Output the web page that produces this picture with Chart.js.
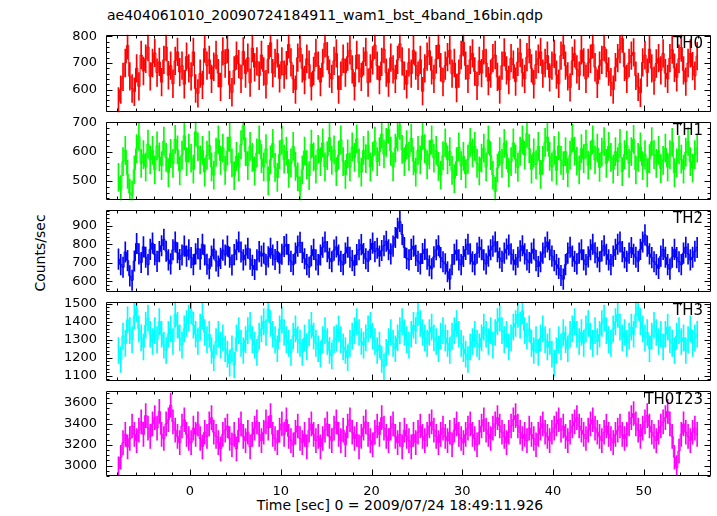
<!DOCTYPE html>
<html>
<head>
<meta charset="utf-8">
<script src="https://cdn.jsdelivr.net/npm/chart.js@4.4.1/dist/chart.umd.min.js"></script>
<style>
  html, body { margin: 0; padding: 0; background: #fff; }
  #wrap { position: relative; width: 717px; height: 516px; overflow: hidden; font-family: 'DejaVu Sans', sans-serif; }
  .panel { position: absolute; left: 0; width: 717px; }
  .panel canvas { display: block; }
  .txt { position: absolute; color: #000; white-space: nowrap; font-size: 14px; line-height: 16px; }
</style>
</head>
<body>
<div id="wrap">
  <div class="txt" style="left:107px; top:7px;">ae404061010_20090724184911_wam1_bst_4band_16bin.qdp</div>
  <div class="txt" style="left:40px; top:253px; transform: translate(-50%, -50%) rotate(-90deg);">Counts/sec</div>
  <div class="txt" style="left:400px; top:505px; transform: translate(-50%, -50%);">Time [sec] 0 = 2009/07/24 18:49:11.926</div>
</div>
<script>
// ==== DATA ====
// bins of 0.25 s, first bin centre at -7.875 s
const binStart = -7.875;
const binWidth = 0.25;

const th0 = [
  556, 600, 648, 700, 766, 650, 604, 592, 680, 612, 730, 670, 716, 760, 650, 700,
  738, 664, 704, 628, 712, 760, 654, 690, 622, 708, 742, 666, 690, 620, 724, 680,
  650, 742, 604, 586, 660, 618, 754, 690, 712, 640, 686, 730, 662, 610, 744, 698,
  752, 618, 590, 672, 728, 696, 640, 744, 660, 720, 626, 756, 684, 706, 652, 730,
  668, 620, 714, 776, 662, 700, 736, 642, 706, 656, 692, 770, 702, 640, 600, 720,
  756, 680, 636, 716, 694, 612, 670, 738, 690, 628, 700, 774, 726, 660, 640, 708,
  736, 600, 652, 716, 664, 724, 748, 676, 612, 730, 680, 648, 706, 742, 626, 680,
  710, 768, 690, 636, 704, 752, 664, 626, 720, 676, 640, 712, 772, 706, 652, 620,
  702, 660, 748, 690, 652, 712, 594, 680, 724, 746, 672, 640, 714, 768, 684, 628,
  690, 722, 748, 660, 700, 606, 660, 730, 778, 690, 640, 712, 736, 668, 614, 708,
  662, 748, 700, 632, 660, 718, 730, 648, 600, 690, 740, 672, 636, 718, 694, 630,
  704, 738, 664, 640, 722, 752, 680, 620, 694, 716, 742, 660, 700, 728, 646, 690,
  734, 656, 622, 728, 768, 690, 650, 608, 708, 736, 676, 652, 748, 702, 640, 700,
  716, 770, 684, 622, 690, 712, 760, 700, 668, 628, 600, 684, 718, 752, 792, 686,
  640, 700, 728, 740, 652, 610, 588, 702, 730, 664, 752, 680, 634, 698, 718, 672,
  736, 662, 640, 718, 750, 682, 646, 716, 758, 672, 630, 700, 736, 688, 652, 726
];

const th1 = [
  512, 470, 566, 604, 522, 458, 452, 538, 610, 652, 560, 590, 548, 626, 572, 604,
  538, 620, 582, 552, 636, 580, 528, 594, 560, 642, 606, 534, 588, 654, 566, 612,
  578, 540, 668, 616, 572, 604, 530, 588, 622, 548, 520, 598, 640, 570, 612, 536,
  602, 650, 562, 518, 584, 548, 624, 688, 600, 552, 618, 580, 534, 596, 640, 576,
  548, 610, 500, 572, 628, 546, 512, 590, 640, 574, 602, 526, 562, 618, 550, 514,
  466, 538, 602, 556, 518, 626, 582, 540, 608, 566, 630, 548, 586, 648, 570, 606,
  532, 588, 640, 566, 522, 592, 548, 616, 580, 644, 562, 530, 604, 576, 622, 548,
  584, 636, 566, 600, 660, 592, 632, 676, 602, 548, 612, 650, 690, 608, 566, 624,
  584, 646, 568, 530, 604, 572, 654, 610, 556, 590, 640, 578, 604, 550, 520, 586,
  630, 572, 600, 536, 508, 566, 616, 552, 584, 524, 574, 632, 596, 618, 560, 534,
  578, 612, 548, 640, 586, 520, 464, 544, 600, 560, 628, 590, 528, 566, 630, 574,
  546, 602, 640, 588, 662, 610, 540, 596, 556, 618, 522, 570, 632, 650, 584, 548,
  604, 536, 620, 570, 552, 600, 528, 588, 646, 602, 568, 538, 610, 576, 626, 554,
  588, 640, 572, 612, 546, 598, 634, 560, 618, 580, 540, 600, 566, 628, 532, 590,
  622, 560, 600, 642, 538, 580, 616, 552, 590, 528, 576, 634, 590, 560, 604, 542,
  570, 612, 548, 590, 632, 528, 562, 606, 574, 540, 598, 634, 566, 544, 590, 612
];

const th2 = [
  720, 690, 676, 758, 712, 630, 606, 710, 804, 748, 702, 786, 730, 690, 772, 806,
  744, 708, 760, 792, 826, 762, 716, 694, 770, 812, 754, 718, 742, 790, 736, 770,
  728, 690, 748, 776, 720, 800, 742, 692, 668, 736, 774, 710, 682, 724, 768, 742,
  790, 730, 688, 744, 770, 812, 758, 716, 742, 778, 720, 686, 664, 716, 760, 736,
  752, 690, 732, 778, 742, 718, 760, 698, 746, 788, 800, 744, 708, 690, 752, 790,
  810, 756, 722, 690, 676, 738, 772, 716, 690, 742, 784, 812, 760, 724, 706, 768,
  786, 742, 708, 690, 752, 784, 730, 712, 686, 744, 770, 798, 750, 722, 708, 772,
  806, 760, 778, 736, 766, 792, 816, 770, 748, 790, 836, 886, 922, 852, 782, 724,
  716, 772, 790, 740, 708, 694, 750, 772, 720, 684, 668, 732, 770, 792, 728, 706,
  694, 652, 612, 690, 746, 768, 716, 690, 734, 772, 800, 748, 706, 690, 752, 784,
  770, 716, 694, 736, 770, 790, 812, 760, 726, 708, 752, 774, 796, 748, 716, 690,
  730, 764, 792, 748, 716, 702, 752, 774, 712, 680, 706, 752, 784, 812, 770, 736,
  712, 690, 670, 632, 612, 690, 752, 784, 736, 708, 694, 752, 770, 716, 690, 732,
  770, 800, 754, 730, 706, 764, 792, 746, 716, 690, 736, 772, 800, 812, 760, 728,
  708, 752, 782, 746, 730, 708, 772, 812, 850, 790, 748, 728, 706, 690, 670, 736,
  772, 730, 690, 666, 730, 772, 728, 706, 690, 752, 784, 748, 716, 730, 762, 782
];

const th3 = [
  1240, 1190, 1320, 1280, 1410, 1350, 1300, 1430, 1470, 1360, 1310, 1260, 1380, 1420, 1330, 1290,
  1350, 1300, 1400, 1330, 1270, 1240, 1330, 1360, 1290, 1440, 1380, 1310, 1270, 1360, 1390, 1420,
  1460, 1380, 1330, 1290, 1370, 1430, 1340, 1300, 1330, 1240, 1200, 1290, 1330, 1270, 1310, 1250,
  1220, 1170, 1250, 1160, 1310, 1350, 1280, 1240, 1300, 1350, 1380, 1300, 1270, 1230, 1320, 1360,
  1400, 1340, 1470, 1390, 1330, 1300, 1250, 1360, 1410, 1340, 1300, 1280, 1230, 1320, 1360, 1300,
  1280, 1230, 1310, 1260, 1340, 1380, 1320, 1280, 1250, 1220, 1300, 1350, 1290, 1240, 1210, 1300,
  1310, 1360, 1300, 1260, 1240, 1200, 1280, 1320, 1350, 1400, 1340, 1290, 1270, 1310, 1360, 1380,
  1320, 1290, 1240, 1270, 1190, 1150, 1230, 1290, 1340, 1280, 1250, 1310, 1350, 1400, 1340, 1300,
  1270, 1330, 1380, 1350, 1450, 1390, 1340, 1310, 1280, 1340, 1370, 1310, 1290, 1250, 1320, 1350,
  1310, 1280, 1240, 1320, 1350, 1390, 1330, 1280, 1250, 1220, 1190, 1260, 1290, 1330, 1280, 1260,
  1310, 1370, 1330, 1290, 1350, 1270, 1340, 1400, 1420, 1350, 1300, 1330, 1260, 1310, 1370, 1390,
  1440, 1380, 1460, 1350, 1320, 1360, 1280, 1240, 1300, 1230, 1310, 1360, 1300, 1260, 1290, 1220,
  1170, 1240, 1300, 1260, 1340, 1300, 1250, 1330, 1360, 1400, 1330, 1290, 1340, 1280, 1360, 1390,
  1320, 1280, 1350, 1290, 1330, 1390, 1420, 1350, 1300, 1280, 1360, 1400, 1440, 1370, 1310, 1340,
  1280, 1320, 1370, 1330, 1440, 1480, 1400, 1360, 1310, 1340, 1250, 1320, 1380, 1340, 1290, 1330,
  1260, 1330, 1370, 1300, 1280, 1240, 1320, 1350, 1290, 1310, 1240, 1300, 1360, 1280, 1310, 1330
];

const th0123 = [
  2970, 3080, 3220, 3300, 3180, 3260, 3380, 3300, 3240, 3340, 3420, 3300, 3480, 3360, 3280, 3400,
  3460, 3360, 3520, 3300, 3260, 3400, 3440, 3580, 3420, 3340, 3280, 3220, 3380, 3440, 3300, 3260,
  3220, 3360, 3300, 3400, 3260, 3180, 3320, 3280, 3400, 3460, 3320, 3280, 3220, 3160, 3300, 3340,
  3380, 3260, 3200, 3300, 3160, 3340, 3400, 3280, 3240, 3320, 3180, 3300, 3360, 3420, 3300, 3240,
  3320, 3420, 3360, 3480, 3300, 3260, 3220, 3340, 3400, 3300, 3440, 3280, 3240, 3200, 3320, 3380,
  3260, 3220, 3300, 3180, 3340, 3400, 3300, 3240, 3280, 3180, 3260, 3340, 3400, 3280, 3240, 3360,
  3420, 3300, 3240, 3340, 3200, 3380, 3440, 3320, 3260, 3300, 3180, 3280, 3360, 3420, 3300, 3240,
  3200, 3320, 3380, 3300, 3460, 3360, 3280, 3240, 3360, 3400, 3280, 3220, 3300, 3180, 3340, 3280,
  3240, 3180, 3300, 3220, 3320, 3380, 3280, 3240, 3300, 3380, 3420, 3340, 3280, 3220, 3300, 3360,
  3280, 3240, 3320, 3200, 3340, 3400, 3300, 3260, 3220, 3300, 3360, 3400, 3300, 3260, 3200, 3320,
  3380, 3440, 3340, 3300, 3260, 3360, 3400, 3460, 3380, 3320, 3280, 3220, 3320, 3380, 3440, 3480,
  3380, 3320, 3260, 3300, 3240, 3360, 3300, 3260, 3200, 3300, 3360, 3400, 3320, 3280, 3240, 3320,
  3360, 3400, 3440, 3340, 3380, 3280, 3240, 3320, 3380, 3420, 3460, 3380, 3340, 3300, 3260, 3340,
  3400, 3440, 3360, 3320, 3280, 3240, 3320, 3380, 3300, 3260, 3220, 3300, 3340, 3380, 3300, 3260,
  3300, 3400, 3460, 3500, 3400, 3340, 3280, 3360, 3420, 3480, 3380, 3320, 3280, 3240, 3320, 3380,
  3420, 3460, 3520, 3400, 3280, 3080, 2980, 3140, 3300, 3400, 3320, 3280, 3240, 3320, 3360, 3300
];

// half-length of the error bars (counts/sec), one per band
const errHalf = [52, 48, 55, 72, 115];

// axis ranges and tick labels
const xMin = -9.25, xMax = 57.4;
const xTickLabels = [0, 10, 20, 30, 40, 50];
const yMins = [515, 434, 542, 1070, 2900];
const yMaxs = [806, 702, 985, 1510, 3718];
const yTickLabels = [
  [600, 700, 800],
  [500, 600, 700],
  [600, 700, 800, 900],
  [1100, 1200, 1300, 1400, 1500],
  [3000, 3200, 3400, 3600]
];
const yMinor = [20, 20, 20, 20, 50];
const bandNames = ['TH0', 'TH1', 'TH2', 'TH3', 'TH0123'];

// ==== LAYOUT ====
const panelEdges = [30, 117, 205, 297, 386, 476];
const colors = ['#ff0000', '#00ff00', '#0000ff', '#00ffff', '#ff00ff'];
const series = [th0, th1, th2, th3, th0123];
const times = th0.map((_, i) => binStart + i * binWidth);

Chart.defaults.font.family = "'DejaVu Sans', sans-serif";
Chart.defaults.font.size = 13;
Chart.defaults.color = '#000';

// frame + inward ticks on all four sides, and the band name
const frameTicks = {
  id: 'frameTicks',
  afterDatasetsDraw(chart, args, opts) {
    const { ctx, chartArea: a, scales: { x, y } } = chart;
    const L = Math.round(a.left) + 0.5, R = Math.round(a.right) - 0.5;
    const T = Math.round(a.top) + 0.5, B = Math.round(a.bottom) - 0.5;
    ctx.save();
    ctx.strokeStyle = '#000';
    ctx.lineWidth = 1;
    ctx.beginPath();
    ctx.rect(L, T, R - L, B - T);
    // x ticks: majors every 10 s, minors every 2 s
    for (let v = Math.ceil(x.min / 2) * 2; v <= x.max; v += 2) {
      const len = xTickLabels.includes(v) || Math.abs(v % 10) < 1e-6 ? 6 : 3;
      const px = Math.round(x.getPixelForValue(v)) + 0.5;
      ctx.moveTo(px, T); ctx.lineTo(px, T + len);
      ctx.moveTo(px, B); ctx.lineTo(px, B - len);
    }
    // y ticks
    for (let v = Math.ceil(y.min / opts.minor) * opts.minor; v <= y.max; v += opts.minor) {
      const len = opts.majors.includes(v) ? 6 : 3;
      const py = Math.round(y.getPixelForValue(v)) + 0.5;
      ctx.moveTo(L, py); ctx.lineTo(L + len, py);
      ctx.moveTo(R, py); ctx.lineTo(R - len, py);
    }
    ctx.stroke();
    ctx.fillStyle = '#000';
    ctx.font = "15px 'DejaVu Sans', sans-serif";
    ctx.textAlign = 'right';
    ctx.textBaseline = 'top';
    ctx.fillText(opts.label, a.right - 8, a.top + 2);
    ctx.restore();
  }
};

function makePanel(k) {
  const isBottom = k === series.length - 1;
  const h = panelEdges[k + 1] - panelEdges[k];
  const div = document.createElement('div');
  div.className = 'panel';
  div.style.top = (panelEdges[k] - 12) + 'px';
  const cv = document.createElement('canvas');
  cv.width = 717;
  cv.height = isBottom ? h + 52 : h + 24;
  div.style.height = cv.height + 'px';
  div.appendChild(cv);
  document.getElementById('wrap').appendChild(div);

  const vals = series[k];
  const err = errHalf[k];

  const xScale = {
    type: 'linear',
    min: xMin,
    max: xMax,
    offset: false,
    display: isBottom,
    grid: { display: false, drawTicks: false },
    border: { display: false },
    ticks: { padding: 8, maxRotation: 0, autoSkip: false, callback: v => String(v) },
    afterBuildTicks: s => { s.ticks = xTickLabels.map(v => ({ value: v })); }
  };
  if (isBottom) xScale.afterFit = s => { s.height = 30; };

  new Chart(cv.getContext('2d'), {
    type: 'bar',
    data: {
      datasets: [
        {
          type: 'line',
          data: vals.map((v, i) => ({ x: times[i], y: v })),
          borderColor: colors[k],
          borderWidth: 1,
          stepped: 'middle',
          pointRadius: 0,
          fill: false
        },
        {
          type: 'bar',
          data: vals.map((v, i) => ({ x: times[i], y: [v - err, v + err] })),
          backgroundColor: colors[k],
          borderWidth: 0,
          barThickness: 1
        }
      ]
    },
    options: {
      responsive: false,
      animation: false,
      events: [],
      layout: { padding: { left: 0, right: 6, top: 12, bottom: isBottom ? 10 : 12 } },
      plugins: {
        legend: { display: false },
        tooltip: { enabled: false },
        frameTicks: { label: bandNames[k], majors: yTickLabels[k], minor: yMinor[k] }
      },
      scales: {
        x: xScale,
        y: {
          type: 'linear',
          min: yMins[k],
          max: yMaxs[k],
          grid: { display: false, drawTicks: false },
          border: { display: false },
          ticks: { padding: 9, autoSkip: false, callback: v => String(v) },
          afterBuildTicks: s => { s.ticks = yTickLabels[k].map(v => ({ value: v })); },
          afterFit: s => { s.width = 106; }
        }
      }
    },
    plugins: [frameTicks]
  });
}

for (let k = 0; k < series.length; k++) makePanel(k);
</script>
</body>
</html>
